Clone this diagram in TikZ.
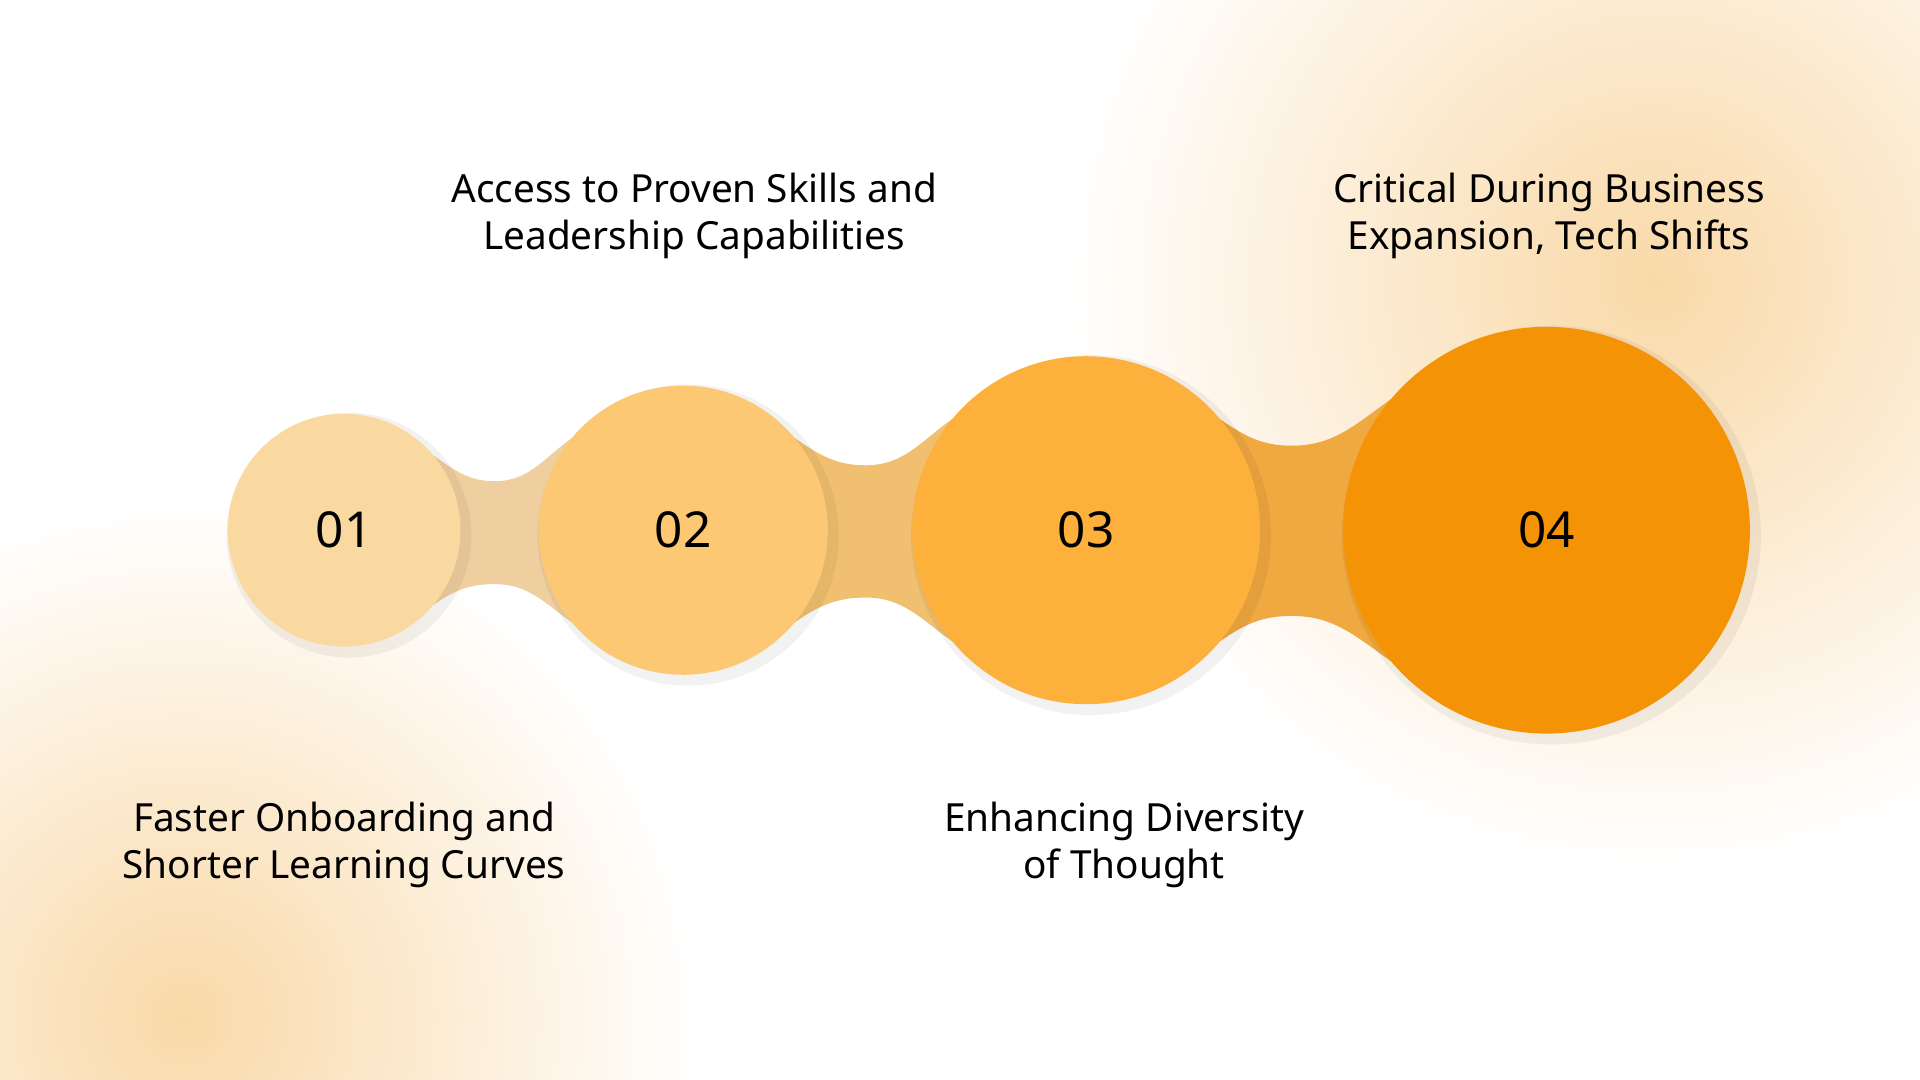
\documentclass[tikz,border=0pt]{standalone}
\usepackage{fontspec}
\setmainfont{Noto Sans}
\definecolor{cA}{HTML}{FAD9A1}
\definecolor{cB}{HTML}{FCC874}
\definecolor{cC}{HTML}{FDB03C}
\definecolor{cD}{HTML}{F39305}
\definecolor{bA}{HTML}{EFCF9F}
\definecolor{bB}{HTML}{F0C070}
\definecolor{bC}{HTML}{F0A840}
\definecolor{glow}{HTML}{F9D9A8}
\begin{document}
\begin{tikzpicture}[x=0.01cm,y=-0.01cm,
  lbl/.style={align=center,font=\fontsize{9pt}{10.9pt}\selectfont,text=black},
  num/.style={font=\fontsize{11.5pt}{12pt}\selectfont,text=black}]
\useasboundingbox (0,0) rectangle (1568,882);
\fill[white] (0,0) rectangle (1568,882);
\begin{scope}
\clip (0,0) rectangle (1568,882);
\shade[inner color=glow,outer color=white] (150,830) circle (420);
\shade[inner color=glow,outer color=white] (1350,230) circle (480);
\end{scope}
% bands
\fill[bA] (354,372) to[out=-35,in=180] (404,393) to[out=0,in=-145] (468,357) -- (468,509) to[out=145,in=0] (404,477) to[out=180,in=35] (354,494) -- cycle;
\fill[bB] (648,357) to[out=-35,in=180] (707,380) to[out=0,in=-145] (778,342) -- (778,524) to[out=145,in=0] (707,488) to[out=180,in=35] (648,509) -- cycle;
\fill[bC] (996,342) to[out=-35,in=180] (1055,364) to[out=0,in=-145] (1136,326) -- (1136,540) to[out=145,in=0] (1055,503) to[out=180,in=35] (996,524) -- cycle;
% circles
\foreach \cx/\r in {281/95,558/118,887/142,1263/166}{
  \fill[black,opacity=0.05] (\cx+4,437) circle (\r+5);
}
\node[circle,fill=cA,minimum size=1.9cm,inner sep=0,num] (n1) at (281,433) {01};
\node[circle,fill=cB,minimum size=2.36cm,inner sep=0,num] (n2) at (558,433) {02};
\node[circle,fill=cC,minimum size=2.84cm,inner sep=0,num] (n3) at (887,433) {03};
\node[circle,fill=cD,minimum size=3.32cm,inner sep=0,num] (n4) at (1263,433) {04};
% labels
\node[lbl] (t1) at (567,176) {Access to Proven Skills and\\Leadership Capabilities};
\node[lbl] (t2) at (1265,176) {Critical During Business\\Expansion, Tech Shifts};
\node[lbl] (t3) at (281,690) {Faster Onboarding and\\Shorter Learning Curves};
\node[lbl] (t4) at (918,690) {Enhancing Diversity\\of Thought};
\end{tikzpicture}
\end{document}
